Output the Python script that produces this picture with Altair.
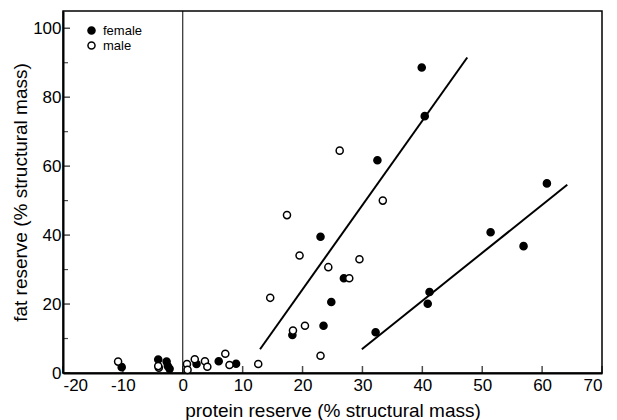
import altair as alt
import pandas as pd

# Female (filled) observations: protein reserve vs fat reserve, % structural mass
female_x = [-10.2, -4.1, -2.7, -2.5, -2.2, 2.3, 6.0, 8.9, 18.3, 23.0, 23.5, 24.8,
            26.9, 32.2, 32.5, 39.9, 40.4, 40.9, 41.2, 51.4, 56.9, 60.8]
female_y = [1.7, 3.9, 3.3, 2.0, 1.2, 2.6, 3.4, 2.7, 11.0, 39.5, 13.7, 20.6,
            27.5, 11.8, 61.7, 88.6, 74.5, 20.1, 23.5, 40.8, 36.8, 55.0]

# Male (open) observations
male_x = [-10.8, -4.0, -4.1, 0.7, 0.8, 2.0, 3.7, 4.1, 7.1, 7.8, 12.6, 14.6,
          17.4, 18.4, 19.5, 20.4, 23.0, 24.3, 26.2, 27.8, 29.5, 33.4]
male_y = [3.3, 1.5, 2.0, 2.6, 0.9, 4.0, 3.4, 1.8, 5.6, 2.3, 2.6, 21.8,
          45.8, 12.3, 34.1, 13.7, 5.0, 30.7, 64.5, 27.5, 33.0, 50.0]

# Fitted regression segments (end points)
fit_a_x = [12.9, 47.5]
fit_a_y = [6.9, 91.5]
fit_b_x = [29.9, 64.2]
fit_b_y = [6.9, 54.6]

x_ticks = [-20, -10, 0, 10, 20, 30, 40, 50, 60, 70]
y_major = [0, 20, 40, 60, 80, 100]
y_minor = [10, 30, 50, 70, 90]

points = pd.DataFrame({
    "protein": female_x + male_x,
    "fat": female_y + male_y,
    "sex": ["female"] * len(female_x) + ["male"] * len(male_x),
})
fits = pd.DataFrame({
    "protein": fit_a_x + fit_b_x,
    "fat": fit_a_y + fit_b_y,
    "group": ["a", "a", "b", "b"],
})

FONT = "Liberation Sans"
W, H = 539, 362

xscale = alt.Scale(domain=[-20, 70], nice=False, zero=False)
yscale = alt.Scale(domain=[0, 105], nice=False, zero=False)

# plain hyphen for negative labels
plain = "'' + datum.value"

x_axis = alt.Axis(values=x_ticks, ticks=False, grid=False, labelPadding=4,
                  labelExpr=plain,
                  labelFontSize=17, labelFont=FONT, labelColor="black",
                  domainColor="black", domainWidth=2,
                  title="protein reserve (% structural mass)",
                  titleFont=FONT, titleFontSize=19, titleFontWeight="normal",
                  titleColor="black", titleBaseline="alphabetic", titleY=43)
y_axis = alt.Axis(values=y_major, ticks=False, grid=False, labelPadding=2,
                  labelExpr=plain,
                  labelFontSize=17, labelFont=FONT, labelColor="black",
                  domainColor="black", domainWidth=2,
                  title="fat reserve (% structural mass)",
                  titleFont=FONT, titleFontSize=19, titleFontWeight="normal",
                  titleColor="black", titleBaseline="alphabetic", titleX=-37)

base = alt.Chart(points)

zero_line = alt.Chart(pd.DataFrame({"protein": [0]})).mark_rule(
    color="black", strokeWidth=1
).encode(x=alt.X("protein:Q", scale=xscale, axis=x_axis))

fit_lines = alt.Chart(fits).mark_line(color="black", strokeWidth=2).encode(
    x=alt.X("protein:Q", scale=xscale),
    y=alt.Y("fat:Q", scale=yscale, axis=y_axis),
    detail="group:N",
)

dots = base.mark_point(filled=True, shape="circle", size=50, stroke="black",
                       strokeWidth=1.5, opacity=1).encode(
    x=alt.X("protein:Q", scale=xscale),
    y=alt.Y("fat:Q", scale=yscale),
    fill=alt.Fill("sex:N",
                  scale=alt.Scale(domain=["female", "male"], range=["black", "white"]),
                  legend=alt.Legend(title=None, orient="none", legendX=22, legendY=13,
                                    padding=0, symbolType="circle", symbolSize=50,
                                    symbolStrokeColor="black", symbolStrokeWidth=1.5,
                                    symbolOpacity=1, labelFont=FONT, labelFontSize=13,
                                    labelColor="black", labelOffset=5, rowPadding=0)),
)

# Inward-pointing tick marks
xt = alt.Chart(pd.DataFrame({"protein": x_ticks})).mark_tick(
    color="black", size=7, thickness=1.5
).encode(x=alt.X("protein:Q", scale=xscale), y=alt.value(H - 3.5))
ytm = alt.Chart(pd.DataFrame({"fat": y_major})).mark_tick(
    color="black", size=7, thickness=1.5
).encode(y=alt.Y("fat:Q", scale=yscale), x=alt.value(3.5))
ytn = alt.Chart(pd.DataFrame({"fat": y_minor})).mark_tick(
    color="black", size=5, thickness=1.2
).encode(y=alt.Y("fat:Q", scale=yscale), x=alt.value(2.5))

chart = alt.layer(zero_line, fit_lines, xt, ytm, ytn, dots).properties(
    width=W, height=H,
    padding={"left": 63, "top": 11, "right": 15, "bottom": 47},
    autosize=alt.AutoSizeParams(type="none"),
    background="white",
).configure_view(stroke="black", strokeWidth=1.5)

chart.save("out.html", embed_options={"renderer": "svg", "actions": False})
